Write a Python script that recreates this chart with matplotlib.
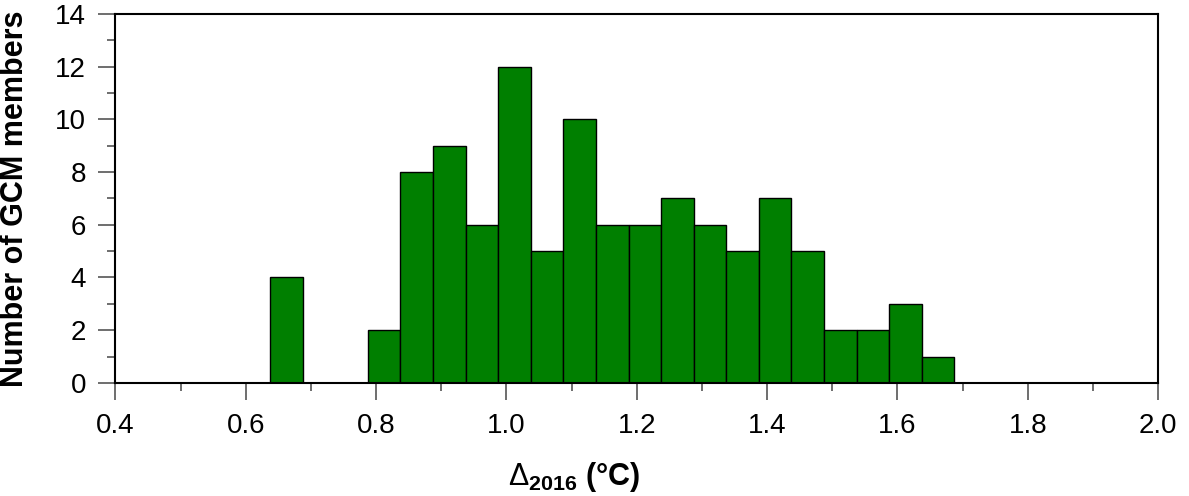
import matplotlib
matplotlib.use('Agg')
import matplotlib.pyplot as plt
from matplotlib.ticker import MultipleLocator

plt.rcParams['font.family'] = ['Liberation Sans', 'DejaVu Sans']
plt.rcParams['mathtext.fontset'] = 'custom'
plt.rcParams['mathtext.rm'] = 'Liberation Sans'
plt.rcParams['mathtext.bf'] = 'Liberation Sans:bold'
plt.rcParams['mathtext.it'] = 'Liberation Sans:italic'

# Данные гистограммы: левые границы интервалов и количество членов
bin_left = [0.6375, 0.6875, 0.7375, 0.7875, 0.8375, 0.8875, 0.9375, 0.9875,
            1.0375, 1.0875, 1.1375, 1.1875, 1.2375, 1.2875, 1.3375, 1.3875,
            1.4375, 1.4875, 1.5375, 1.5875, 1.6375]
counts = [4, 0, 0, 2, 8, 9, 6, 12, 5, 10, 6, 6, 7, 6, 5, 7, 5, 2, 2, 3, 1]
bin_width = 0.05

fig = plt.figure(figsize=(11.89, 4.96), dpi=100)
ax = fig.add_axes([0.097, 0.228, 0.877, 0.744])

ax.bar(bin_left, counts, width=bin_width, align='edge',
       color='#007f00', edgecolor='black', linewidth=1.0)

ax.set_xlim(0.4, 2.0)
ax.set_ylim(0, 14)
ax.xaxis.set_major_locator(MultipleLocator(0.2))
ax.xaxis.set_minor_locator(MultipleLocator(0.1))
ax.yaxis.set_major_locator(MultipleLocator(2))
ax.yaxis.set_minor_locator(MultipleLocator(1))
ax.xaxis.set_major_formatter(plt.FormatStrFormatter('%.1f'))

ax.tick_params(which='major', direction='out', length=12, width=1.2,
               labelsize=20, color='#555555')
ax.tick_params(axis='y', which='major', pad=9)
ax.tick_params(axis='x', which='major', pad=10)
ax.tick_params(which='minor', direction='out', length=6, width=1.2,
               color='#555555')
for s in ax.spines.values():
    s.set_linewidth(1.5)

ax.set_ylabel('Number of GCM members', fontsize=22, fontweight='bold')
ax.yaxis.set_label_coords(-0.082, 0.5)
ax.set_xlabel(r'$\Delta_{\mathbf{2016}}$ (°C)', fontsize=22, fontweight='bold')
ax.xaxis.set_label_coords(0.44, -0.21)

fig.savefig('out.png', dpi=100)
